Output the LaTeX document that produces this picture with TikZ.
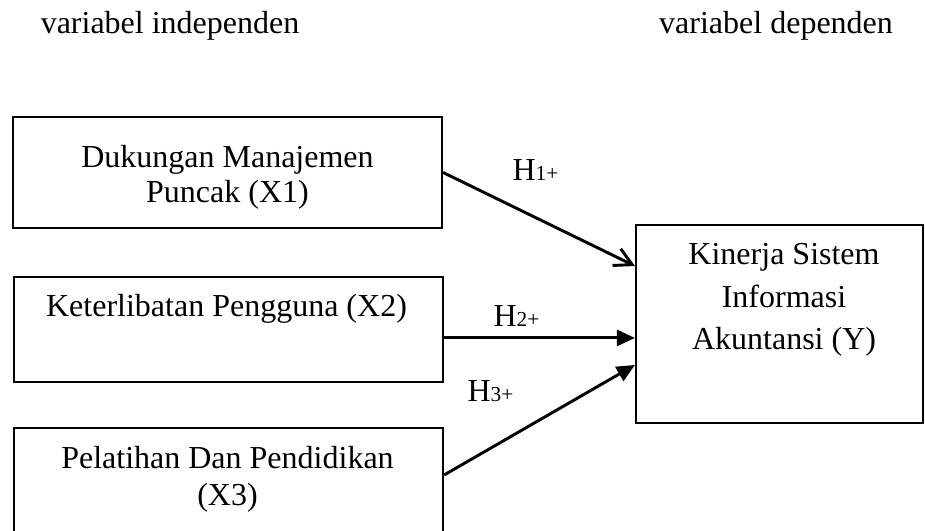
\documentclass[tikz,border=0pt]{standalone}
\usepackage{fontspec}
\setmainfont{Liberation Serif}
\usetikzlibrary{arrows.meta}

\begin{document}
\begin{tikzpicture}[
            varbox/.style={draw, line width=0.8pt, minimum width=5.654cm, minimum height=1.384cm, inner sep=0},
            boxtext/.style={align=center, inner sep=0, font=\fontsize{12}{13.2}\selectfont},
            headnode/.style={anchor=base, inner sep=0, font=\fontsize{12}{14}\selectfont},
            hyplabel/.style={anchor=base west, inner sep=0, font=\fontsize{12}{14}\selectfont},
            link/.style={line width=1.1pt, -{Triangle[length=6.8pt, width=6pt]}},
            openlink/.style={line width=1.1pt, -{Straight Barb[length=6.5pt, width=7pt]}}
        ]
            \useasboundingbox (0, 0) rectangle (12.191, 6.998);

            % headings
            \node[headnode] (indep) at (2.241, 6.563) {variabel independen};
            \node[headnode] (dep) at (10.228, 6.563) {variabel dependen};

            % boxes
            \node[varbox, minimum height=1.463cm] (x1) at (2.998, 4.725) {};
            \node[varbox] (x2) at (3.012, 2.656) {};
            \node[varbox] (x3) at (3.012, 0.666) {};
            \node[varbox, minimum width=3.783cm, minimum height=2.610cm] (y) at (10.274, 2.728) {};

            % box texts
            \node[boxtext] (x1text) at (2.998, 4.666) {Dukungan Manajemen\\Puncak (X1)};
            \node[boxtext] (x2text) at (2.985, 2.933) {Keterlibatan Pengguna (X2)};
            \node[boxtext, font=\fontsize{12}{13.9}\selectfont] (x3text) at (2.998, 0.685) {Pelatihan Dan Pendidikan\\(X3)};
            \node[boxtext, font=\fontsize{12}{16}\selectfont] (ytext) at (10.333, 3.045) {Kinerja Sistem\\Informasi\\Akuntansi (Y)};

            % hypotheses
            \draw[openlink] (x1.east) -- ([yshift=0.764cm]y.west);
            \draw[link] ([yshift=-0.112cm]x2.east) -- ([yshift=-0.112cm]x2.east -| y.west);
            \draw[link] ([yshift=0.072cm]x3.east) -- ([yshift=-0.540cm]y.west);

            \node[hyplabel] (h1) at (6.748, 4.613) {H{\fontsize{8}{8}\selectfont 1+}};
            \node[hyplabel] (h2) at (6.498, 2.689) {H{\fontsize{8}{8}\selectfont 2+}};
            \node[hyplabel] (h3) at (6.155, 1.700) {H{\fontsize{8}{8}\selectfont 3+}};

\end{tikzpicture}
\end{document}
